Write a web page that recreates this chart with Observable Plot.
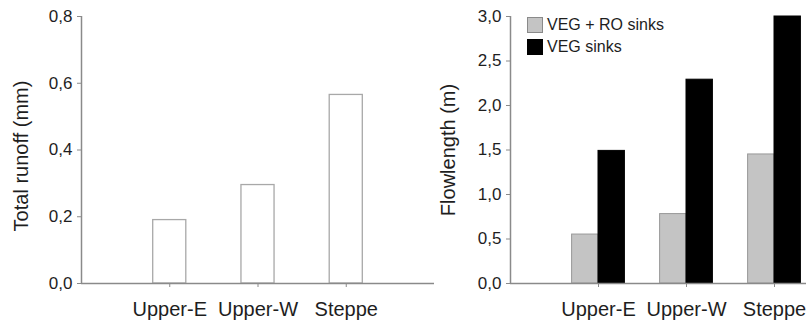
<!DOCTYPE html>
<html>
<head>
<meta charset="utf-8">
<script src="https://cdn.jsdelivr.net/npm/d3@7"></script>
<script src="https://cdn.jsdelivr.net/npm/@observablehq/plot@0.6"></script>
<style>
  html, body { margin: 0; padding: 0; background: white; }
  #wrap { position: relative; width: 806px; height: 324px; overflow: hidden; font-family: Arial, "Liberation Sans", sans-serif; }
  #left, #right { position: absolute; top: 0; }
  #left { left: 0; }
  #right { left: 400px; }
  #legend { position: absolute; left: 527px; top: 17px; font-size: 16px; color: #1e1e1e; }
  .row { display: flex; align-items: center; height: 15px; margin-bottom: 7px; }
  .sw { width: 14px; height: 14px; border: 1px solid #8a8a8a; margin-right: 4px; box-sizing: content-box; }
</style>
</head>
<body>
<div id="wrap">
  <div id="left"></div>
  <div id="right"></div>
  <div id="legend"></div>
</div>
<script>
// ---- data ----
const categories = ["Upper-E", "Upper-W", "Steppe"];
const totalRunoff = [0.19, 0.295, 0.565];          // mm
const flowVegRo = [0.55, 0.78, 1.45];              // m, VEG + RO sinks
const flowVeg = [1.49, 2.29, 3.0];                 // m, VEG sinks
const seriesNames = ["VEG + RO sinks", "VEG sinks"];
const seriesColors = ["#c4c4c4", "#000000"];
const runoffTicks = [0, 0.2, 0.4, 0.6, 0.8];
const flowTicks = [0, 0.5, 1.0, 1.5, 2.0, 2.5, 3.0];
const leftTitle = "Total runoff (mm)";
const rightTitle = "Flowlength (m)";

const fmt = d => d.toFixed(1).replace(".", ",");
const catPos = categories.map((c, i) => i + 1);
const catFmt = p => categories[p - 1] ?? "";
const axisColor = "#8a8a8a";
const textColor = "#1e1e1e";
const font = 'Arial, "Liberation Sans", sans-serif';

// ---- left panel ----
const runoffData = categories.map((c, i) => ({cat: c, pos: i + 1, v: totalRunoff[i]}));
const halfW = 0.1875;
const left = Plot.plot({
  width: 440, height: 324,
  marginLeft: 81, marginRight: 6, marginTop: 16, marginBottom: 41,
  style: {background: "transparent", fontFamily: font, fontSize: "16px", color: textColor},
  x: {domain: [0, 4], axis: null},
  y: {domain: [0, 0.8], axis: null},
  marks: [
    Plot.rectY(runoffData, {x1: d => d.pos - halfW, x2: d => d.pos + halfW, y1: 0, y2: "v",
      fill: "white", stroke: "#a8a8a8", strokeWidth: 1.3}),
    Plot.ruleX([0], {stroke: axisColor, strokeWidth: 1.5}),
    Plot.ruleY([0], {stroke: axisColor, strokeWidth: 1.5}),
    Plot.axisY({ticks: runoffTicks, tickFormat: fmt, tickSize: 4, tickPadding: 5,
      label: null, stroke: axisColor, fill: textColor, fontSize: 17}),
    Plot.axisX({ticks: catPos, tickFormat: catFmt, tickSize: 4, tickPadding: 14,
      label: null, stroke: axisColor, fill: textColor, fontSize: 20}),
    Plot.text([leftTitle], {text: d => d, frameAnchor: "left", rotate: -90, dx: -60, dy: 6,
      textAnchor: "middle", lineAnchor: "middle", fontSize: 20, fill: textColor})
  ]
});
document.getElementById("left").append(left);

// ---- right panel ----
const barW = 0.3;
const flowData = [];
categories.forEach((c, i) => {
  flowData.push({cat: c, series: seriesNames[0], x1: i + 1 - barW, x2: i + 1, v: flowVegRo[i]});
  flowData.push({cat: c, series: seriesNames[1], x1: i + 1, x2: i + 1 + barW, v: flowVeg[i]});
});
const right = Plot.plot({
  width: 406, height: 324,
  marginLeft: 110, marginRight: 0, marginTop: 16, marginBottom: 41,
  style: {background: "transparent", fontFamily: font, fontSize: "16px", color: textColor},
  x: {domain: [0, 296 / 88], axis: null},
  y: {domain: [0, 3], axis: null},
  color: {domain: seriesNames, range: seriesColors},
  marks: [
    Plot.rectY(flowData, {x1: "x1", x2: "x2", y1: 0, y2: "v", fill: "series",
      stroke: d => d.series === seriesNames[0] ? "#999999" : "#000000", strokeWidth: 1}),
    Plot.ruleX([0], {stroke: axisColor, strokeWidth: 1.5}),
    Plot.ruleY([0], {stroke: axisColor, strokeWidth: 1.5}),
    Plot.axisY({ticks: flowTicks, tickFormat: fmt, tickSize: 4, tickPadding: 5,
      label: null, stroke: axisColor, fill: textColor, fontSize: 17}),
    Plot.axisX({ticks: catPos, tickFormat: catFmt, tickSize: 4, tickPadding: 14,
      label: null, stroke: axisColor, fill: textColor, fontSize: 20}),
    Plot.text([rightTitle], {text: d => d, frameAnchor: "left", rotate: -90, dx: -62,
      textAnchor: "middle", lineAnchor: "middle", fontSize: 20, fill: textColor})
  ]
});
document.getElementById("right").append(right);

// ---- legend ----
const legend = document.getElementById("legend");
seriesNames.forEach((s, i) => {
  const row = document.createElement("div");
  row.className = "row";
  const sw = document.createElement("div");
  sw.className = "sw";
  sw.style.background = seriesColors[i];
  if (i === 1) sw.style.borderColor = "#000";
  const t = document.createElement("span");
  t.textContent = s;
  row.append(sw, t);
  legend.append(row);
});
</script>
</body>
</html>
